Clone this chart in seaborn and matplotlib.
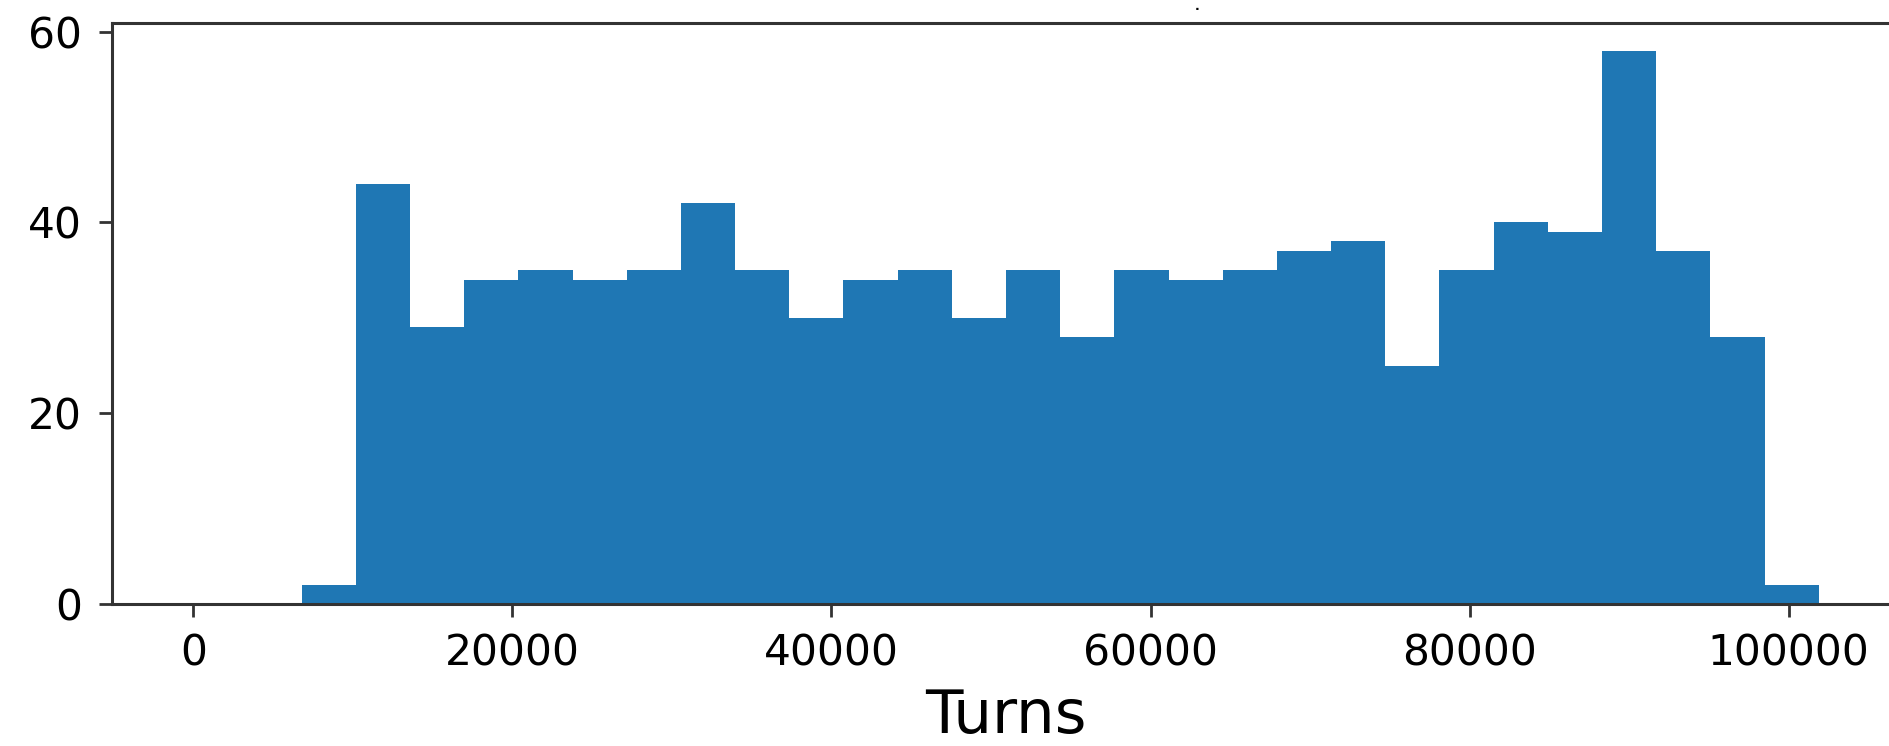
import numpy as np
import pandas as pd
import seaborn as sns
import matplotlib
matplotlib.use("Agg")
import matplotlib.pyplot as plt

# histogram of game lengths, 30 bins from 0 to ~101880 turns
bin_range = (0, 101880)
n_bins = 30
counts = [0, 0, 2, 44, 29, 34, 35, 34, 35, 42, 35, 30, 34, 35, 30,
          35, 28, 35, 34, 35, 37, 38, 25, 35, 40, 39, 58, 37, 28, 2]
x_ticks = [0, 20000, 40000, 60000, 80000, 100000]
y_ticks = [0, 20, 40, 60]

edges = np.linspace(bin_range[0], bin_range[1], n_bins + 1)
df = pd.DataFrame({"Turns": (edges[:-1] + edges[1:]) / 2, "count": counts})

sns.set_theme(style="ticks", rc={
    "axes.edgecolor": "#333333",
    "axes.linewidth": 2.2,
    "axes.labelcolor": "black",
    "text.color": "black",
    "xtick.color": "#333333",
    "ytick.color": "#333333",
    "xtick.labelcolor": "black",
    "ytick.labelcolor": "black",
    "xtick.major.size": 9.4,
    "ytick.major.size": 9.4,
    "xtick.major.width": 2.0,
    "ytick.major.width": 2.0,
    "xtick.major.pad": 11,
    "ytick.major.pad": 12,
})
plt.rcParams["font.family"] = ["DejaVu Sans"]

fig = plt.figure(figsize=(18.89, 7.46), dpi=100)
ax = fig.add_axes([0.0593, 0.1903, 0.9465, 0.7789])

sns.histplot(data=df, x="Turns", weights="count", bins=n_bins, binrange=bin_range,
             color="#1f77b4", alpha=1, linewidth=0, ax=ax)

ax.set_xticks(x_ticks)
ax.set_yticks(y_ticks)
ax.tick_params(labelsize=30.5)
ax.set_ylabel("")
ax.set_xlabel("Turns", fontsize=44, labelpad=9, color="black")

# stray dot above the plot in the original
fig.text(1197 / 1889, 1 - 6 / 746, ".", fontsize=9, ha="center", va="center",
         fontweight="bold")

fig.savefig("out.png", dpi=100)
